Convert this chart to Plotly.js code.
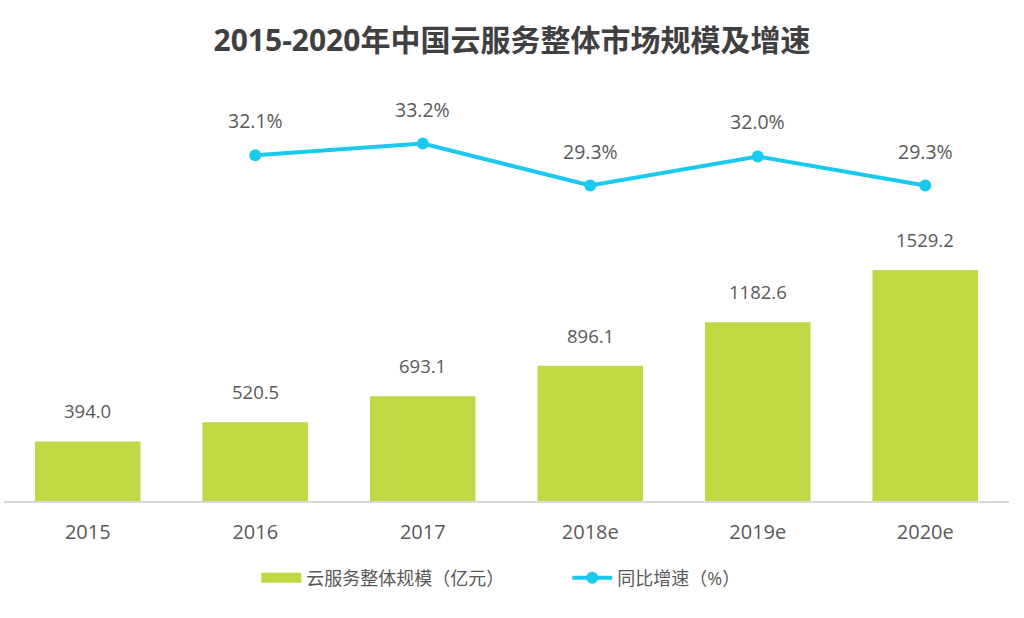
<!DOCTYPE html>
<html><head><meta charset="utf-8">
<script src="https://cdn.plot.ly/plotly-3.0.1.min.js"></script>
<style>html,body{margin:0;padding:0;background:#fff}#chart{width:1024px;height:618px}</style>
</head><body><div id="chart"></div>
<script>
const categories = ['2015','2016','2017','2018e','2019e','2020e'];
const scaleValues = [394.0, 520.5, 693.1, 896.1, 1182.6, 1529.2];
const growthCats = ['2016','2017','2018e','2019e','2020e'];
const growthValues = [32.1, 33.2, 29.3, 32.0, 29.3];

const FONT = 'Open Sans, "Noto Sans CJK SC", sans-serif';
const GREEN = '#BFD843', BLUE = '#19C9EE';
const traces = [
  {type:'bar', x:categories, y:scaleValues, name:'云服务整体规模（亿元）',
   marker:{color:GREEN}, showlegend:false},
  {type:'scatter', mode:'lines', x:[null], y:[null], name:'云服务整体规模（亿元）',
   line:{color:GREEN, width:14}, showlegend:true},
  {type:'scatter', mode:'lines+markers', x:growthCats, y:growthValues, yaxis:'y2',
   name:'同比增速（%）', line:{color:BLUE, width:4}, marker:{color:BLUE, size:12}}
];
const annotations = [];
categories.forEach((c,i)=>annotations.push({x:categories.indexOf(c), y:scaleValues[i], xref:'x', yref:'y',
  text:scaleValues[i].toFixed(1), showarrow:false, yanchor:'bottom', yshift:16,
  font:{size:18.5, color:'#595959', family:FONT}}));
growthCats.forEach((c,i)=>annotations.push({x:categories.indexOf(c), y:growthValues[i], xref:'x', yref:'y2',
  text:growthValues[i].toFixed(1)+'%', showarrow:false, yanchor:'bottom', yshift:19,
  font:{size:19.5, color:'#595959', family:FONT}}));

const layout = {
  width:1024, height:618,
  margin:{l:4, r:15, t:80, b:117},
  paper_bgcolor:'#fff', plot_bgcolor:'#fff',
  font:{family:FONT, color:'#595959'},
  title:{text:'<b>2015-2020年中国云服务整体市场规模及增速</b>', x:0.5, xanchor:'center',
    y:0.935, yanchor:'middle', yref:'container', font:{size:30, color:'#404040', family:FONT}},
  bargap:0.37,
  xaxis:{type:'category', categoryorder:'array', categoryarray:categories,
    range:[-0.5, categories.length-0.5], autorange:false,
    showline:true, linecolor:'#D9D9D9', linewidth:1.5, showgrid:false, zeroline:false,
    ticks:'', ticklabelstandoff:12, tickfont:{size:20, color:'#595959'}},
  yaxis:{range:[0,2787], visible:false, showgrid:false, zeroline:false},
  yaxis2:{range:[0,39.1], overlaying:'y', visible:false, showgrid:false, zeroline:false},
  showlegend:true,
  legend:{orientation:'h', x:0.251, xanchor:'left', y:-0.183, yanchor:'middle',
    font:{size:18, color:'#595959'}, itemwidth:40, entrywidth:256, entrywidthmode:'pixels',
    traceorder:'normal'},
  annotations:annotations
};
Plotly.newPlot('chart', traces, layout, {displayModeBar:false, staticPlot:true});
</script></body></html>
